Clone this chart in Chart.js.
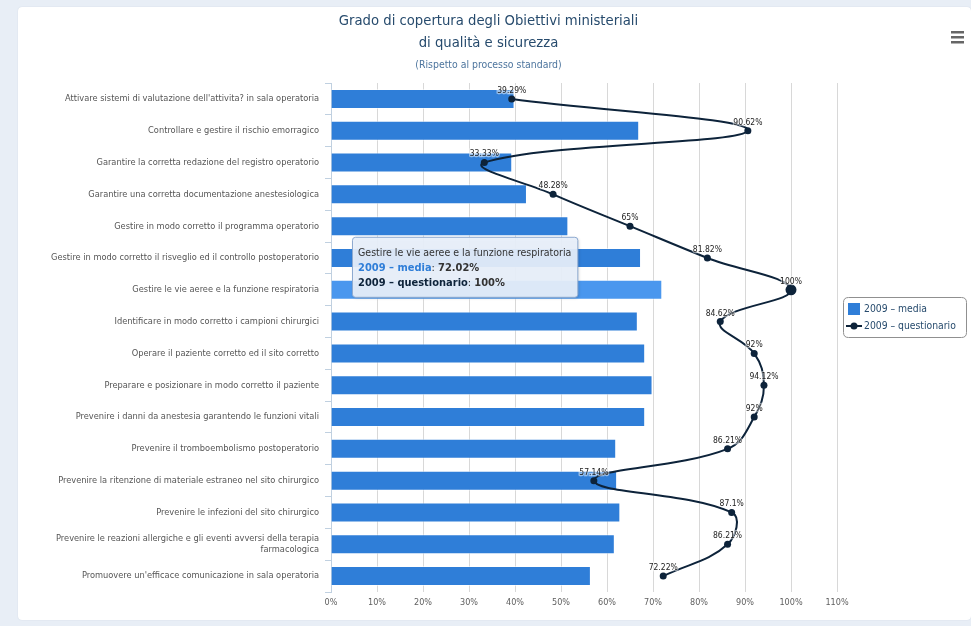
<!DOCTYPE html>
<html><head><meta charset="utf-8">
<script src="https://cdn.jsdelivr.net/npm/chart.js@4.4.1/dist/chart.umd.min.js"></script>
<style>
html,body{margin:0;padding:0;background:#e8eef6;width:971px;height:626px;overflow:hidden;}
#card{position:absolute;left:18px;top:7px;width:953px;height:613px;background:#fff;border-radius:4px;box-shadow:0 0 1px rgba(120,140,170,0.35);}
canvas{display:block;}
</style></head><body>
<div id="card"><canvas id="c" width="953" height="613"></canvas></div>
<script>
const categories = [
  "Attivare sistemi di valutazione dell'attivita? in sala operatoria",
  "Controllare e gestire il rischio emorragico",
  "Garantire la corretta redazione del registro operatorio",
  "Garantire una corretta documentazione anestesiologica",
  "Gestire in modo corretto il programma operatorio",
  "Gestire in modo corretto il risveglio ed il controllo postoperatorio",
  "Gestire le vie aeree e la funzione respiratoria",
  "Identificare in modo corretto i campioni chirurgici",
  "Operare il paziente corretto ed il sito corretto",
  "Preparare e posizionare in modo corretto il paziente",
  "Prevenire i danni da anestesia garantendo le funzioni vitali",
  "Prevenire il tromboembolismo postoperatorio",
  "Prevenire la ritenzione di materiale estraneo nel sito chirurgico",
  "Prevenire le infezioni del sito chirurgico",
  ["Prevenire le reazioni allergiche e gli eventi avversi della terapia", "farmacologica"],
  "Promuovere un'efficace comunicazione in sala operatoria"
];
const mediaValues = [39.9, 67.0, 39.4, 42.6, 51.6, 67.4, 72.02, 66.7, 68.3, 69.9, 68.3, 62.0, 62.2, 62.9, 61.7, 56.5];
const questionarioValues = [39.29, 90.62, 33.33, 48.28, 65, 81.82, 100, 84.62, 92, 94.12, 92, 86.21, 57.14, 87.1, 86.21, 72.22];
const xTickValues = [0, 10, 20, 30, 40, 50, 60, 70, 80, 90, 100, 110];
const seriesNames = ["2009 – media", "2009 – questionario"];
const titleLines = ["Grado di copertura degli Obiettivi ministeriali", "di qualità e sicurezza"];
const subtitleText = "(Rispetto al processo standard)";
const highlightIndex = 6;

const FONT = '"Liberation Sans Narrow","DejaVu Sans Condensed","Roboto Condensed","Open Sans",sans-serif';
const BAR_COLOR = '#2f7ed8';
const BAR_HOVER = '#4a97ee';
const LINE_COLOR = '#0d233a';

function rrect(ctx, x, y, w, h, r) {
  ctx.beginPath();
  ctx.moveTo(x + r, y);
  ctx.lineTo(x + w - r, y); ctx.quadraticCurveTo(x + w, y, x + w, y + r);
  ctx.lineTo(x + w, y + h - r); ctx.quadraticCurveTo(x + w, y + h, x + w - r, y + h);
  ctx.lineTo(x + r, y + h); ctx.quadraticCurveTo(x, y + h, x, y + h - r);
  ctx.lineTo(x, y + r); ctx.quadraticCurveTo(x, y, x + r, y);
  ctx.closePath();
}

const decorPlugin = {
  id: 'decor',
  afterDraw(chart) {
    const ctx = chart.ctx;
    const W = chart.width;
    const ca = chart.chartArea;
    ctx.save();
    // title
    ctx.fillStyle = '#274b6d';
    ctx.textAlign = 'center';
    ctx.textBaseline = 'middle';
    ctx.font = '14.7px ' + FONT;
    ctx.fillText(titleLines[0], W / 2 - 6, 14);
    ctx.fillText(titleLines[1], W / 2 - 6, 36);
    ctx.fillStyle = '#4d759e';
    ctx.font = '10.4px ' + FONT;
    ctx.fillText(subtitleText, W / 2 - 6, 58);
    // menu icon
    ctx.fillStyle = '#666';
    for (let i = 0; i < 3; i++) ctx.fillRect(W - 20, 24 + i * 5, 13, 2.5);

    // data labels
    const meta = chart.getDatasetMeta(1);
    ctx.font = '8.5px ' + FONT;
    ctx.textBaseline = 'bottom';
    meta.data.forEach((pt, i) => {
      const txt = questionarioValues[i] + '%';
      ctx.lineWidth = 2.5; ctx.strokeStyle = 'rgba(255,255,255,0.5)';
      ctx.strokeText(txt, pt.x, pt.y - 4);
      ctx.fillStyle = '#222';
      ctx.fillText(txt, pt.x, pt.y - 4);
    });

    // legend
    const lx = ca.right + 6, ly = 290, lw = 123, lh = 40;
    rrect(ctx, lx + 0.5, ly + 0.5, lw, lh, 5);
    ctx.fillStyle = '#fff'; ctx.fill();
    ctx.strokeStyle = '#909090'; ctx.lineWidth = 1; ctx.stroke();
    ctx.fillStyle = BAR_COLOR;
    ctx.fillRect(lx + 5, ly + 6, 12, 12);
    ctx.strokeStyle = LINE_COLOR; ctx.lineWidth = 2;
    ctx.beginPath(); ctx.moveTo(lx + 3, ly + 29); ctx.lineTo(lx + 19, ly + 29); ctx.stroke();
    ctx.fillStyle = LINE_COLOR;
    ctx.beginPath(); ctx.arc(lx + 11, ly + 29, 3.5, 0, Math.PI * 2); ctx.fill();
    ctx.fillStyle = '#274b6d';
    ctx.textAlign = 'left'; ctx.textBaseline = 'middle';
    ctx.font = '10.3px ' + FONT;
    ctx.fillText(seriesNames[0], lx + 21, ly + 12);
    ctx.fillText(seriesNames[1], lx + 21, ly + 29);

    // tooltip
    const yc = chart.scales.y.getPixelForValue(highlightIndex);
    const tTitle = Array.isArray(categories[highlightIndex]) ? categories[highlightIndex].join(' ') : categories[highlightIndex];
    ctx.font = '10.5px ' + FONT;
    const wTitle = ctx.measureText(tTitle).width;
    const tx = ca.left + 21, th = 60, ty = yc + 7 - th;
    const tw = Math.max(wTitle + 12, 150);
    ctx.save();
    ctx.shadowColor = 'rgba(0,0,0,0.18)'; ctx.shadowOffsetX = 1; ctx.shadowOffsetY = 1; ctx.shadowBlur = 3;
    rrect(ctx, tx + 0.5, ty + 0.5, tw, th, 3);
    ctx.fillStyle = 'rgba(232,240,251,0.93)'; ctx.fill();
    ctx.restore();
    rrect(ctx, tx + 0.5, ty + 0.5, tw, th, 3);
    ctx.strokeStyle = '#8eaad0'; ctx.lineWidth = 1; ctx.stroke();
    ctx.textAlign = 'left'; ctx.textBaseline = 'middle';
    ctx.fillStyle = '#333';
    ctx.font = '10.5px ' + FONT;
    ctx.fillText(tTitle, tx + 6, ty + 16);
    const rows = [
      [seriesNames[0], BAR_COLOR, mediaValues[highlightIndex]],
      [seriesNames[1], LINE_COLOR, questionarioValues[highlightIndex]]
    ];
    rows.forEach((r, i) => {
      const yy = ty + 31 + i * 15;
      let x = tx + 6;
      ctx.font = 'bold 11px ' + FONT;
      ctx.fillStyle = r[1];
      ctx.fillText(r[0], x, yy); x += ctx.measureText(r[0]).width;
      ctx.font = '11px ' + FONT; ctx.fillStyle = '#333';
      ctx.fillText(': ', x, yy); x += ctx.measureText(': ').width;
      ctx.font = 'bold 11px ' + FONT;
      ctx.fillText(r[2] + '%', x, yy);
    });
    ctx.restore();
  }
};

new Chart(document.getElementById('c'), {
  data: {
    labels: categories,
    datasets: [
      {
        type: 'bar', label: seriesNames[0], data: mediaValues, order: 2,
        backgroundColor: c => c.dataIndex === highlightIndex ? BAR_HOVER : BAR_COLOR,
        borderColor: 'rgba(255,255,255,0.55)', borderWidth: 1,
        categoryPercentage: 1, barPercentage: 0.63
      },
      {
        type: 'line', label: seriesNames[1], data: questionarioValues, order: 1, indexAxis: 'y',
        borderColor: LINE_COLOR, borderWidth: 2, tension: 0.4, fill: false,
        pointRadius: c => c.dataIndex === highlightIndex ? 5.5 : 3.5,
        pointBackgroundColor: LINE_COLOR, pointBorderWidth: 0
      }
    ]
  },
  options: {
    responsive: false, animation: false, indexAxis: 'y',
    layout: { padding: { left: 0, right: 134, top: 76, bottom: 8 } },
    plugins: { legend: { display: false }, title: { display: false }, tooltip: { enabled: false } },
    events: [],
    scales: {
      x: {
        min: 0, max: 110,
        afterBuildTicks(s) { s.ticks = xTickValues.map(v => ({ value: v })); },
        ticks: { callback: v => v + '%', color: '#606060', font: { family: FONT, size: 9 }, padding: 5, maxRotation: 0 },
        grid: { color: '#d8d8d8', drawTicks: false },
        border: { display: false },
        afterFit(s) { s.height = 20; }
      },
      y: {
        ticks: { color: '#555', font: { family: FONT, size: 9.2 }, padding: 6, autoSkip: false },
        grid: { drawOnChartArea: false, color: '#C0D0E0', tickLength: 6, offset: true },
        border: { display: true, color: '#C0D0E0' },
        afterFit(s) { s.width = 313; }
      }
    }
  },
  plugins: [decorPlugin]
});
</script>
</body></html>
